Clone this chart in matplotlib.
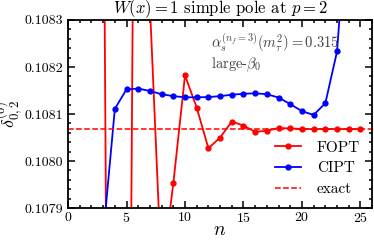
import matplotlib
matplotlib.use("Agg")
import matplotlib.pyplot as plt
import numpy as np
from matplotlib.ticker import MultipleLocator

plt.rcParams['font.family'] = 'serif'
plt.rcParams['font.serif'] = ['cmr10']
plt.rcParams['mathtext.fontset'] = 'cm'
plt.rcParams['axes.formatter.use_mathtext'] = True

# orders n
n = np.arange(1, 26)

# FOPT partial sums (values far off-range for small n)
fopt = np.array([0.1140, 0.1100, 0.1088, 0.1050, 0.10642, 0.11003, 0.10833, 0.107755,
                 0.1079525, 0.1081823, 0.1081134, 0.108027, 0.108050, 0.108084, 0.1080752,
                 0.108062, 0.1080645, 0.108070, 0.1080695, 0.108068, 0.108068, 0.108068,
                 0.108068, 0.108068, 0.108068])

# CIPT partial sums
cipt = np.array([0.1060, 0.1072, 0.10784, 0.108111, 0.1081525, 0.108154, 0.108149,
                 0.108142, 0.108138, 0.1081355, 0.1081355, 0.108136, 0.108138, 0.108141,
                 0.108143, 0.108144, 0.108142, 0.108135, 0.108121, 0.108106, 0.108098,
                 0.108123, 0.108233, 0.10857, 0.1092])

exact = 0.108068

fig = plt.figure(figsize=(3.74, 2.40), dpi=100)
ax = fig.add_axes([0.182, 0.133, 0.813, 0.784])

ax.plot(n, fopt, '-o', color='red', lw=1.3, ms=3.5, label='FOPT')
ax.plot(n, cipt, '-o', color='blue', lw=1.3, ms=3.5, label='CIPT')
ax.axhline(exact, color='red', ls='--', lw=1.1, label='exact')

ax.set_xlim(0, 26)
ax.set_ylim(0.1079, 0.1083)
ax.xaxis.set_major_locator(MultipleLocator(5))
ax.xaxis.set_minor_locator(MultipleLocator(1))
ax.yaxis.set_major_locator(MultipleLocator(0.0001))
ax.yaxis.set_minor_locator(MultipleLocator(0.00002))
ax.yaxis.set_major_formatter(matplotlib.ticker.FormatStrFormatter('%.4f'))
ax.tick_params(which='both', direction='in', top=True, right=True, labelsize=10, width=1.1)
ax.tick_params(which='major', length=5)
ax.tick_params(which='minor', length=2.5)
ax.tick_params(axis='x', pad=2)
for s in ax.spines.values():
    s.set_linewidth(1.3)

ax.set_title(r'$W(x) = 1$ simple pole at $p = 2$', fontsize=12, pad=2)
ax.set_xlabel(r'$n$', fontsize=14)
ax.xaxis.set_label_coords(0.5, -0.07)
ax.set_ylabel(r'$\delta^{(0)}_{0,2}$', fontsize=13)
ax.yaxis.set_label_coords(-0.14, 0.5)

ax.text(0.47, 0.878, r'$\alpha_s^{(n_f=3)}(m_\tau^2) = 0.315$', transform=ax.transAxes,
        fontsize=10.5, color='0.25', va='center')
ax.text(0.47, 0.76, r'large-$\beta_0$', transform=ax.transAxes,
        fontsize=10.5, color='0.25', va='center')

ax.legend(loc='lower right', frameon=False, fontsize=11, handlelength=1.7,
          borderaxespad=0.4, labelspacing=0.45, handletextpad=1.0)

fig.savefig('out.png', dpi=100)
